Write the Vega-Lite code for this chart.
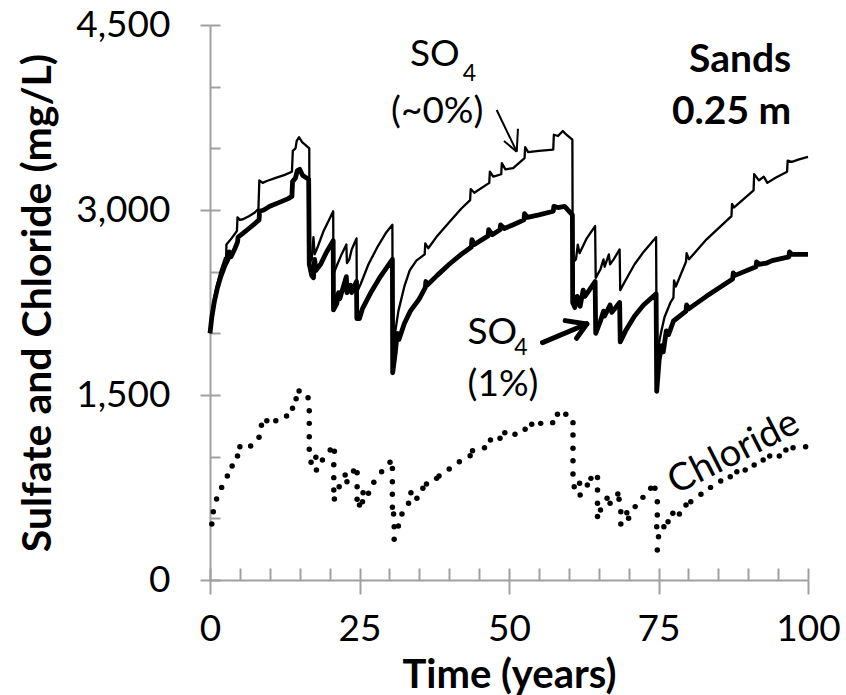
{
  "$schema": "https://vega.github.io/schema/vega-lite/v6.json",
  "autosize": {"type": "none"},
  "padding": {"left": 210, "top": 25, "right": 38, "bottom": 115},
  "width": 598,
  "height": 555,
  "background": "white",
  "config": {"view": {"stroke": null}, "font": "Lato"},
  "datasets": {
    "so4_1": [
      {"t":0,"v":2000},{"t":0.3,"v":2130},{"t":0.7,"v":2250},{"t":1.2,"v":2360},{"t":1.8,"v":2460},{"t":2.5,"v":2550},{"t":3.0,"v":2600},{"t":3.2,"v":2660},{"t":3.5,"v":2620},{"t":4.2,"v":2690},{"t":4.6,"v":2740},{"t":4.7,"v":2780},{"t":5.5,"v":2810},{"t":6.5,"v":2850},{"t":7.5,"v":2890},{"t":8.2,"v":2920},{"t":8.3,"v":2990},{"t":9,"v":3000},{"t":10,"v":3030},{"t":11.5,"v":3060},{"t":13,"v":3090},{"t":13.7,"v":3110},{"t":13.8,"v":3230},{"t":14.3,"v":3260},{"t":14.6,"v":3320},{"t":15.0,"v":3330},{"t":15.5,"v":3280},{"t":16.5,"v":3250},
      {"t":16.6,"v":2560},{"t":17.0,"v":2470},{"t":17.3,"v":2450},{"t":17.5,"v":2600},{"t":17.7,"v":2510},{"t":18.5,"v":2560},{"t":19.5,"v":2660},{"t":20.6,"v":2750},{"t":20.65,"v":2190},{"t":21.2,"v":2240},{"t":21.5,"v":2330},{"t":21.7,"v":2280},{"t":22.8,"v":2460},{"t":22.9,"v":2330},{"t":23.5,"v":2390},{"t":23.7,"v":2330},{"t":24.5,"v":2420},{"t":24.55,"v":2120},{"t":25.0,"v":2120},{"t":25.5,"v":2200},{"t":27,"v":2340},{"t":28.5,"v":2460},{"t":30.5,"v":2600},
      {"t":30.55,"v":1680},{"t":31.0,"v":1850},{"t":31.3,"v":2000},{"t":31.6,"v":1950},{"t":32.5,"v":2080},{"t":33.5,"v":2180},{"t":35,"v":2280},{"t":36.0,"v":2370},{"t":36.1,"v":2420},{"t":36.3,"v":2390},{"t":38,"v":2470},{"t":40,"v":2560},{"t":42,"v":2640},{"t":43.7,"v":2700},{"t":43.8,"v":2760},{"t":44.2,"v":2720},{"t":46.5,"v":2790},{"t":46.6,"v":2840},{"t":47.2,"v":2800},{"t":48.5,"v":2840},{"t":48.6,"v":2880},{"t":49.2,"v":2850},{"t":50.7,"v":2880},{"t":52.5,"v":2920},{"t":52.6,"v":2970},{"t":53.1,"v":2940},{"t":55,"v":2960},{"t":57.4,"v":2990},{"t":57.5,"v":3030},{"t":58.2,"v":3020},{"t":59.3,"v":3030},{"t":60.6,"v":2960},
      {"t":60.65,"v":2250},{"t":61.0,"v":2210},{"t":61.4,"v":2300},{"t":61.9,"v":2220},{"t":62.4,"v":2350},{"t":62.7,"v":2300},{"t":64.4,"v":2420},{"t":64.5,"v":2000},{"t":65.3,"v":2100},{"t":65.8,"v":2180},{"t":66.0,"v":2140},{"t":66.9,"v":2230},{"t":67.2,"v":2170},{"t":68.5,"v":2250},{"t":68.6,"v":1930},{"t":69.5,"v":2020},{"t":71,"v":2140},{"t":72.5,"v":2230},{"t":74.6,"v":2320},
      {"t":74.7,"v":1530},{"t":75.1,"v":1780},{"t":75.5,"v":1900},{"t":75.8,"v":1850},{"t":76.3,"v":2020},{"t":76.7,"v":1990},{"t":77.5,"v":2100},{"t":79.6,"v":2180},{"t":79.7,"v":2230},{"t":80.1,"v":2200},{"t":83,"v":2300},{"t":87.4,"v":2440},{"t":87.5,"v":2490},{"t":87.8,"v":2470},{"t":91.3,"v":2540},{"t":91.4,"v":2580},{"t":91.8,"v":2560},{"t":93.1,"v":2570},{"t":94,"v":2590},{"t":96.8,"v":2620},{"t":96.9,"v":2660},{"t":97.3,"v":2640},{"t":100,"v":2640}
    ],
    "so4_0": [
      {"t":0,"v":2000},{"t":0.3,"v":2160},{"t":0.7,"v":2290},{"t":1.2,"v":2400},{"t":1.8,"v":2510},{"t":2.5,"v":2610},{"t":2.7,"v":2620},{"t":2.75,"v":2720},{"t":3.6,"v":2770},{"t":4.5,"v":2830},{"t":4.6,"v":2940},{"t":5.0,"v":2920},{"t":5.5,"v":2925},{"t":6.5,"v":2950},{"t":7.5,"v":2980},{"t":8.1,"v":3010},{"t":8.25,"v":3240},{"t":8.8,"v":3220},{"t":9.5,"v":3235},{"t":11,"v":3260},{"t":12.5,"v":3285},{"t":13.7,"v":3310},{"t":13.85,"v":3480},{"t":14.3,"v":3500},{"t":14.5,"v":3560},{"t":14.9,"v":3590},{"t":15.4,"v":3550},{"t":15.9,"v":3530},{"t":16.6,"v":3500},
      {"t":16.65,"v":2580},{"t":17.0,"v":2600},{"t":17.3,"v":2780},{"t":17.5,"v":2640},{"t":18.0,"v":2700},{"t":19.0,"v":2830},{"t":20.0,"v":2930},{"t":20.6,"v":2990},{"t":20.65,"v":2480},{"t":21.3,"v":2560},{"t":22.0,"v":2640},{"t":22.8,"v":2720},{"t":22.9,"v":2570},{"t":23.3,"v":2600},{"t":23.7,"v":2680},{"t":24.5,"v":2770},{"t":24.55,"v":2330},{"t":25.2,"v":2400},{"t":26.5,"v":2560},{"t":28,"v":2700},{"t":29.5,"v":2820},{"t":30.5,"v":2880},
      {"t":30.55,"v":1780},{"t":31.0,"v":2020},{"t":31.5,"v":2180},{"t":32.5,"v":2380},{"t":33.4,"v":2510},{"t":34.5,"v":2590},{"t":35.9,"v":2640},{"t":36.0,"v":2730},{"t":36.5,"v":2690},{"t":38,"v":2790},{"t":40,"v":2900},{"t":42,"v":3010},{"t":43.5,"v":3080},{"t":43.6,"v":3170},{"t":44.2,"v":3140},{"t":46.7,"v":3220},{"t":46.8,"v":3310},{"t":47.4,"v":3270},{"t":48.7,"v":3290},{"t":48.8,"v":3380},{"t":49.4,"v":3330},{"t":50.7,"v":3340},{"t":52.6,"v":3420},{"t":52.7,"v":3510},{"t":53.2,"v":3470},{"t":55,"v":3480},{"t":57.4,"v":3490},{"t":57.5,"v":3610},{"t":58.2,"v":3600},{"t":59.0,"v":3640},{"t":59.4,"v":3620},{"t":60.6,"v":3570},
      {"t":60.65,"v":2570},{"t":61.2,"v":2600},{"t":61.5,"v":2720},{"t":61.8,"v":2650},{"t":63,"v":2770},{"t":64.4,"v":2870},{"t":64.5,"v":2450},{"t":65.3,"v":2520},{"t":65.8,"v":2600},{"t":66.0,"v":2540},{"t":66.7,"v":2640},{"t":66.9,"v":2560},{"t":67.5,"v":2600},{"t":68.5,"v":2680},{"t":68.6,"v":2350},{"t":69.5,"v":2430},{"t":71,"v":2560},{"t":72.5,"v":2660},{"t":74.6,"v":2780},
      {"t":74.7,"v":1700},{"t":75.0,"v":1900},{"t":75.4,"v":2000},{"t":76,"v":2130},{"t":77.0,"v":2250},{"t":77.5,"v":2290},{"t":77.6,"v":2430},{"t":77.9,"v":2380},{"t":79.6,"v":2580},{"t":79.7,"v":2650},{"t":80.1,"v":2600},{"t":83,"v":2760},{"t":87.2,"v":2950},{"t":87.3,"v":3050},{"t":87.6,"v":3020},{"t":90.9,"v":3160},{"t":91.0,"v":3290},{"t":91.8,"v":3240},{"t":92.6,"v":3270},{"t":93.2,"v":3220},{"t":94.5,"v":3260},{"t":96.5,"v":3310},{"t":96.6,"v":3400},{"t":97.3,"v":3390},{"t":98.5,"v":3410},{"t":100,"v":3430}
    ],
    "chloride": [
      {"t":0.3,"v":454},{"t":0.55,"v":554},{"t":1.1,"v":657},{"t":1.95,"v":751},{"t":2.9,"v":843},{"t":3.7,"v":924},{"t":4.6,"v":1005},{"t":5.0,"v":1081},{"t":6.8,"v":1086},{"t":8.2,"v":1157},{"t":8.6,"v":1254},{"t":9.5,"v":1292},{"t":11.0,"v":1292},{"t":12.8,"v":1330},{"t":13.8,"v":1392},{"t":14.4,"v":1470},{"t":14.9,"v":1532},{"t":16.4,"v":1478},{"t":16.6,"v":1373},{"t":16.6,"v":1270},{"t":16.6,"v":1162},{"t":16.6,"v":1060},{"t":16.9,"v":954},{"t":17.7,"v":995},{"t":17.8,"v":892},{"t":18.8,"v":973},{"t":20.1,"v":1054},{"t":20.8,"v":1043},{"t":20.7,"v":935},{"t":20.7,"v":830},{"t":20.7,"v":730},{"t":20.8,"v":657},{"t":21.6,"v":757},{"t":22.6,"v":851},{"t":22.9,"v":797},{"t":24.0,"v":884},{"t":24.6,"v":870},{"t":24.6,"v":757},{"t":24.6,"v":654},{"t":25.0,"v":608},{"t":25.5,"v":635},{"t":25.6,"v":708},{"t":26.5,"v":703},{"t":27.4,"v":792},{"t":28.7,"v":878},{"t":30.1,"v":954},{"t":30.5,"v":905},{"t":30.5,"v":797},{"t":30.5,"v":695},{"t":30.5,"v":589},{"t":30.7,"v":535},{"t":30.8,"v":432},{"t":30.8,"v":330},{"t":31.5,"v":438},{"t":32.1,"v":535},{"t":33.2,"v":622},{"t":33.6,"v":708},{"t":34.6,"v":662},{"t":35.6,"v":743},{"t":36.2,"v":778},{"t":37.9,"v":824},{"t":38.3,"v":843},{"t":40.0,"v":900},{"t":41.7,"v":959},{"t":43.5,"v":1008},{"t":43.9,"v":1048},{"t":45.9,"v":1073},{"t":46.9,"v":1135},{"t":48.5,"v":1149},{"t":49.3,"v":1194},{"t":51.0,"v":1181},{"t":52.7,"v":1222},{"t":53.8,"v":1262},{"t":55.3,"v":1270},{"t":57.3,"v":1276},{"t":58.1,"v":1343},{"t":59.5,"v":1343},{"t":60.7,"v":1276},{"t":60.7,"v":1176},{"t":60.7,"v":1068},{"t":60.7,"v":967},{"t":60.7,"v":859},{"t":60.9,"v":757},{"t":61.8,"v":784},{"t":61.9,"v":689},{"t":63.1,"v":770},{"t":63.7,"v":824},{"t":64.8,"v":832},{"t":64.8,"v":730},{"t":64.8,"v":622},{"t":64.8,"v":514},{"t":65.3,"v":568},{"t":66.4,"v":662},{"t":66.9,"v":622},{"t":68.2,"v":697},{"t":68.4,"v":654},{"t":68.7,"v":554},{"t":68.7,"v":454},{"t":69.7,"v":546},{"t":70.0,"v":500},{"t":71.1,"v":595},{"t":72.4,"v":670},{"t":73.7,"v":743},{"t":74.4,"v":743},{"t":74.8,"v":635},{"t":74.8,"v":527},{"t":74.7,"v":432},{"t":75.0,"v":351},{"t":74.8,"v":243},{"t":75.9,"v":432},{"t":76.6,"v":473},{"t":77.4,"v":541},{"t":78.5,"v":535},{"t":79.6,"v":608},{"t":80.4,"v":635},{"t":82.1,"v":695},{"t":83.7,"v":751},{"t":85.4,"v":803},{"t":87.0,"v":838},{"t":88.1,"v":878},{"t":89.5,"v":892},{"t":91.0,"v":932},{"t":92.5,"v":973},{"t":93.6,"v":1005},{"t":95.2,"v":1005},{"t":96.3,"v":1054},{"t":97.5,"v":1073},{"t":99.6,"v":1081}
    ],
    "arrow_thin": [
      {"seg":"shaft","t":47.94,"v":3811},{"seg":"shaft","t":51.29,"v":3473},
      {"seg":"a","t":51.29,"v":3473},{"seg":"a","t":49.16,"v":3559},
      {"seg":"b","t":51.29,"v":3473},{"seg":"b","t":51.5,"v":3659}
    ],
    "arrow_thick": [
      {"seg":"shaft","t":55.6,"v":1925},{"seg":"shaft","t":63.0,"v":2076},
      {"seg":"a","t":63.0,"v":2076},{"seg":"a","t":59.4,"v":2103},
      {"seg":"b","t":63.0,"v":2076},{"seg":"b","t":61.3,"v":1960}
    ],
    "labels_main": [
      {"t":37.6,"v":4257,"label":"SO"},
      {"t":38.0,"v":3795,"label":"(~0%)"},
      {"t":47.2,"v":2000,"label":"SO"},
      {"t":49.0,"v":1581,"label":"(1%)"}
    ],
    "labels_sub": [
      {"t":43.4,"v":4100,"label":"4"},
      {"t":52.0,"v":1880,"label":"4"}
    ],
    "labels_bold": [
      {"t":97.2,"v":4216,"label":"Sands"},
      {"t":97.2,"v":3795,"label":"0.25 m"}
    ],
    "labels_rot": [
      {"t":87.6,"v":1030,"label":"Chloride"}
    ]
  },
  "resolve": {"axis": {"x": "independent", "y": "independent"}},
  "layer": [
    {
      "data": {"name": "so4_1"},
      "mark": {"type": "line", "color": "black", "strokeWidth": 4.8, "strokeJoin": "round"},
      "encoding": {
        "x": {"field": "t", "type": "quantitative", "scale": {"domain": [0, 100], "nice": false},
          "axis": {"orient": "bottom", "values": [0, 25, 50, 75, 100], "format": "d", "tickSize": 14, "tickWidth": 2, "tickColor": "#a0a0a0", "domainColor": "#a0a0a0", "domainWidth": 2, "grid": false, "labelFont": "Lato", "labelFontSize": 37, "labelColor": "black", "labelPadding": 17, "labelFlush": false, "title": "Time (years)", "titleFont": "Lato", "titleFontSize": 40, "titleFontWeight": "bold", "titleColor": "black", "titlePadding": 8}},
        "y": {"field": "v", "type": "quantitative", "scale": {"domain": [0, 4500], "nice": false},
          "axis": {"orient": "left", "values": [0, 1500, 3000, 4500], "format": ",.0f", "tickSize": 10, "tickWidth": 2, "tickColor": "#a0a0a0", "domainColor": "#a0a0a0", "domainWidth": 2, "grid": false, "labelFont": "Lato", "labelFontSize": 37, "labelColor": "black", "labelPadding": 30, "title": "Sulfate and Chloride (mg/L)", "titleFont": "Lato", "titleFontSize": 41, "titleFontWeight": "bold", "titleColor": "black", "titlePadding": 16}}
      }
    },
    {
      "data": {"name": "so4_0"},
      "mark": {"type": "line", "color": "black", "strokeWidth": 2.3, "strokeJoin": "round"},
      "encoding": {
        "x": {"field": "t", "type": "quantitative", "scale": {"domain": [0, 100], "nice": false},
          "axis": {"orient": "bottom", "values": [0, 5, 10, 15, 20, 25, 30, 35, 40, 45, 50, 55, 60, 65, 70, 75, 80, 85, 90, 95, 100], "tickSize": -12, "tickWidth": 2, "tickColor": "#a0a0a0", "domain": false, "grid": false, "labels": false, "title": null}},
        "y": {"field": "v", "type": "quantitative", "scale": {"domain": [0, 4500], "nice": false},
          "axis": {"orient": "left", "values": [0, 500, 1000, 1500, 2000, 2500, 3000, 3500, 4000, 4500], "tickSize": -10, "tickWidth": 2, "tickColor": "#a0a0a0", "domain": false, "grid": false, "labels": false, "title": null}}
      }
    },
    {
      "data": {"name": "chloride"},
      "mark": {"type": "circle", "color": "black", "size": 30, "opacity": 1},
      "encoding": {
        "x": {"field": "t", "type": "quantitative", "axis": null},
        "y": {"field": "v", "type": "quantitative", "axis": null}
      }
    },
    {
      "data": {"name": "arrow_thin"},
      "mark": {"type": "line", "color": "black", "strokeWidth": 2},
      "encoding": {
        "x": {"field": "t", "type": "quantitative", "axis": null},
        "y": {"field": "v", "type": "quantitative", "axis": null},
        "detail": {"field": "seg"}
      }
    },
    {
      "data": {"name": "arrow_thick"},
      "mark": {"type": "line", "color": "black", "strokeWidth": 5, "strokeCap": "round"},
      "encoding": {
        "x": {"field": "t", "type": "quantitative", "axis": null},
        "y": {"field": "v", "type": "quantitative", "axis": null},
        "detail": {"field": "seg"}
      }
    },
    {
      "data": {"name": "labels_main"},
      "mark": {"type": "text", "font": "Lato", "fontSize": 37, "color": "black", "baseline": "middle", "align": "center"},
      "encoding": {
        "x": {"field": "t", "type": "quantitative", "axis": null},
        "y": {"field": "v", "type": "quantitative", "axis": null},
        "text": {"field": "label"}
      }
    },
    {
      "data": {"name": "labels_sub"},
      "mark": {"type": "text", "font": "Lato", "fontSize": 23, "color": "black", "baseline": "middle", "align": "center"},
      "encoding": {
        "x": {"field": "t", "type": "quantitative", "axis": null},
        "y": {"field": "v", "type": "quantitative", "axis": null},
        "text": {"field": "label"}
      }
    },
    {
      "data": {"name": "labels_bold"},
      "mark": {"type": "text", "font": "Lato", "fontSize": 39, "fontWeight": "bold", "color": "black", "baseline": "middle", "align": "right"},
      "encoding": {
        "x": {"field": "t", "type": "quantitative", "axis": null},
        "y": {"field": "v", "type": "quantitative", "axis": null},
        "text": {"field": "label"}
      }
    },
    {
      "data": {"name": "labels_rot"},
      "mark": {"type": "text", "font": "Lato", "fontSize": 38, "color": "black", "baseline": "middle", "align": "center", "angle": -27},
      "encoding": {
        "x": {"field": "t", "type": "quantitative", "axis": null},
        "y": {"field": "v", "type": "quantitative", "axis": null},
        "text": {"field": "label"}
      }
    }
  ]
}
